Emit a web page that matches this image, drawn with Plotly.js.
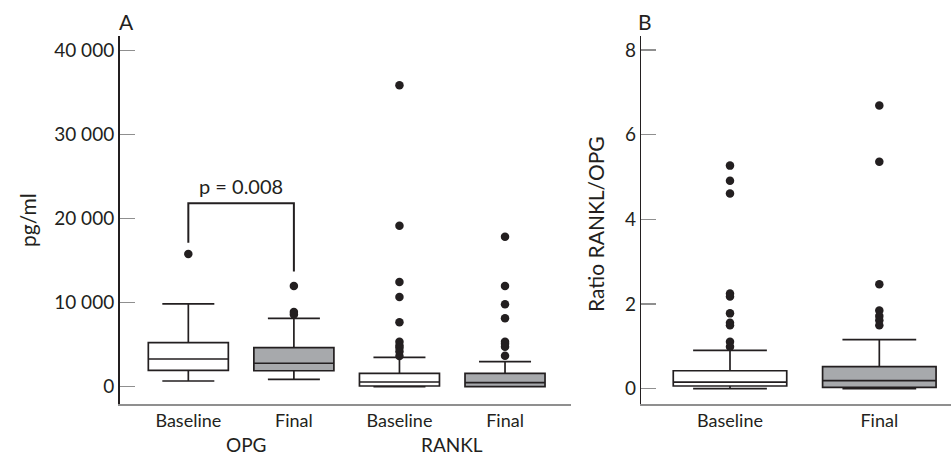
<!DOCTYPE html>
<html>
<head>
<meta charset="utf-8">
<script src="https://cdn.plot.ly/plotly-3.0.1.min.js"></script>
<style>html,body{margin:0;padding:0;background:#fff;}#chart{width:951px;height:458px;}</style>
</head>
<body>
<div id="chart"></div>
<script>
// ---- Panel A data (pg/ml) ----
const aPositions = [0, 1, 2, 3];
const aTickLabels = ['Baseline', 'Final', 'Baseline', 'Final'];
const aGroups = ['OPG', 'RANKL'];
const aGroupPos = [0.55, 2.5];
const aLowerFence = [680, 880, 0, 0];
const aQ1 = [1950, 1900, 80, 0];
const aMedian = [3300, 2790, 560, 480];
const aQ3 = [5240, 4640, 1590, 1590];
const aUpperFence = [9850, 8140, 3500, 2980];
const aOutliers = [
  [15800],
  [12000, 8900, 8600],
  [35900, 19170, 12460, 10680, 7660, 5360, 4900, 4640, 4200, 3650],
  [17860, 11990, 9810, 8140, 5360, 5100, 4760, 3690]
];
const aFill = ['#ffffff', '#a7a9ac', '#ffffff', '#a7a9ac'];
// significance bracket between OPG baseline and final
const bracketX = [0, 0, 1, 1];
const bracketY = [17140, 21830, 21830, 13700];
const pText = 'p = 0.008';

// ---- Panel B data (ratio RANKL/OPG) ----
const bPositions = [0, 1];
const bTickLabels = ['Baseline', 'Final'];
const bLowerFence = [0, 0];
const bQ1 = [0.064, 0.03];
const bMedian = [0.158, 0.19];
const bQ3 = [0.425, 0.52];
const bUpperFence = [0.907, 1.16];
const bOutliers = [
  [5.27, 4.91, 4.61, 2.25, 2.18, 1.78, 1.56, 1.50, 1.11, 0.99],
  [6.69, 5.36, 2.47, 1.85, 1.72, 1.62, 1.50]
];
const bFill = ['#ffffff', '#a7a9ac'];

const ink = '#231f20';
const font = 'Lato, "Open Sans", sans-serif';
const traces = [];

function addBoxes(pos, lf, q1, med, q3, uf, outs, fills, xa, ya, w) {
  for (let i = 0; i < pos.length; i++) {
    traces.push({
      type: 'box', x: [pos[i]], q1: [q1[i]], median: [med[i]], q3: [q3[i]],
      lowerfence: [lf[i]], upperfence: [uf[i]],
      width: w, whiskerwidth: 0.65, boxpoints: false,
      fillcolor: fills[i], line: {color: ink, width: 1.7},
      xaxis: xa, yaxis: ya, showlegend: false, hoverinfo: 'skip'
    });
    traces.push({
      type: 'scatter', mode: 'markers',
      x: outs[i].map(() => pos[i]), y: outs[i],
      marker: {color: ink, size: 8.5},
      xaxis: xa, yaxis: ya, showlegend: false, hoverinfo: 'skip'
    });
  }
}
addBoxes(aPositions, aLowerFence, aQ1, aMedian, aQ3, aUpperFence, aOutliers, aFill, 'x', 'y', 0.758);
addBoxes(bPositions, bLowerFence, bQ1, bMedian, bQ3, bUpperFence, bOutliers, bFill, 'x2', 'y2', 0.76);

traces.push({
  type: 'scatter', mode: 'lines', x: bracketX, y: bracketY,
  line: {color: ink, width: 2}, xaxis: 'x', yaxis: 'y', showlegend: false, hoverinfo: 'skip'
});

const axisFont = {family: font, size: 19, color: ink};
const catFont = {family: font, size: 18, color: ink};
const labelFont = {family: font, size: 21, color: ink};
const groupFont = {family: font, size: 19, color: ink};

const plotTop = 36, plotBottom = 404, plotH = plotBottom - plotTop;
function pyToPaper(py) { return (plotBottom - py) / plotH; }
function pxToPaper(px) { return px / 951; }

function lab(text, px, py, extra) {
  return Object.assign({
    text: text, x: pxToPaper(px), y: pyToPaper(py), xref: 'paper', yref: 'paper',
    xanchor: 'center', yanchor: 'middle', showarrow: false, font: labelFont
  }, extra || {});
}

const layout = {
  width: 951, height: 458,
  margin: {l: 0, r: 0, t: plotTop, b: 458 - plotBottom},
  paper_bgcolor: '#fff', plot_bgcolor: '#fff',
  font: {family: font, color: ink},
  showlegend: false,
  xaxis: {
    domain: [119.5/951, 571/951], range: [-0.652, 3.625],
    tickvals: aPositions, ticktext: aTickLabels, ticks: '',
    showgrid: false, zeroline: false, showline: true, linecolor: '#8f8f8f', linewidth: 1.5,
    tickfont: catFont
  },
  yaxis: {
    domain: [0, 1], range: [-2060, 41750],
    tickvals: [0, 10000, 20000, 30000, 40000],
    ticktext: ['0', '10 000', '20 000', '30 000', '40 000'],
    ticks: 'inside', ticklen: 15, tickcolor: '#8f8f8f', tickwidth: 1.5,
    showgrid: false, zeroline: false, showline: true, linecolor: ink, linewidth: 1.5,
    tickfont: axisFont, anchor: 'x'
  },
  xaxis2: {
    domain: [641.3/951, 1], range: [-0.594, 1.48],
    tickvals: bPositions, ticktext: bTickLabels, ticks: '',
    showgrid: false, zeroline: false, showline: true, linecolor: '#8f8f8f', linewidth: 1.5,
    tickfont: catFont, anchor: 'y2'
  },
  yaxis2: {
    domain: [0, 1], range: [-0.361, 8.332],
    tickvals: [0, 2, 4, 6, 8],
    ticks: 'inside', ticklen: 15, tickcolor: '#8f8f8f', tickwidth: 1.5,
    showgrid: false, zeroline: false, showline: true, linecolor: ink, linewidth: 1.5,
    tickfont: axisFont, anchor: 'x2'
  },
  annotations: [
    {text: pText, x: 0.5, y: bracketY[1], xref: 'x', yref: 'y', xanchor: 'center', yanchor: 'bottom',
     showarrow: false, yshift: 3, font: {family: font, size: 20, color: ink}},
    {text: aGroups[0], x: aGroupPos[0], xref: 'x', y: pyToPaper(444), yref: 'paper',
     xanchor: 'center', yanchor: 'middle', showarrow: false, borderpad: 0, font: groupFont},
    {text: aGroups[1], x: aGroupPos[1], xref: 'x', y: pyToPaper(444), yref: 'paper',
     xanchor: 'center', yanchor: 'middle', showarrow: false, borderpad: 0, font: groupFont},
    lab('A', 126.7, 22),
    lab('B', 645, 22),
    lab('pg/ml', 27, 220, {textangle: -90}),
    lab('Ratio RANKL/OPG', 595, 224, {textangle: -90})
  ]
};

Plotly.newPlot('chart', traces, layout, {displayModeBar: false, staticPlot: true});
</script>
</body>
</html>
